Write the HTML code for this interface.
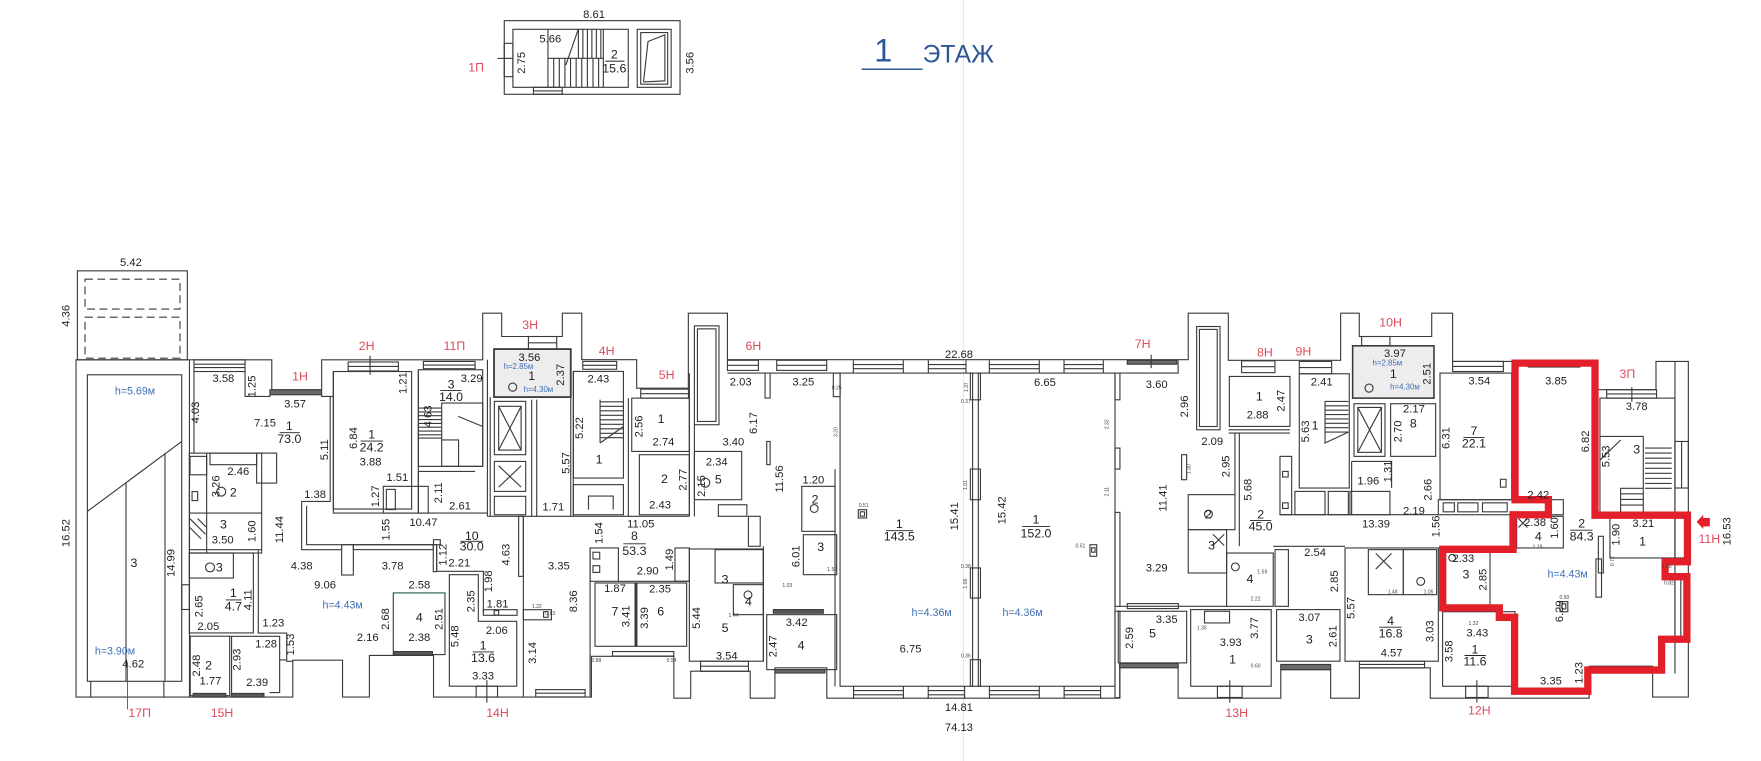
<!DOCTYPE html>
<html><head><meta charset="utf-8">
<style>
html,body{margin:0;padding:0;background:#fff;overflow:hidden;}
svg{display:block;}
</style></head><body>
<svg xmlns="http://www.w3.org/2000/svg" width="1761" height="761" viewBox="0 0 1568 678" preserveAspectRatio="none">
<rect width="1568" height="678" fill="#fff"/>
<line x1="857.8" y1="0" x2="857.8" y2="678" stroke="#e2e2e2" stroke-width="0.8"/>

<!-- ===== HEADER STAIR ===== -->
<g fill="none" stroke="#3a3a3a" stroke-width="1">
<rect x="449" y="18.4" width="156.5" height="65.6"/>
<rect x="456.7" y="26.1" width="102.7" height="51.7"/>
<rect x="567.4" y="26.1" width="30.2" height="51.7"/>
<rect x="570.5" y="29" width="24" height="46"/>
<polyline points="573,73 577,37 592,31 592,72 573,73"/>
<rect x="449" y="38.6" width="7.7" height="29.7"/>
<line x1="443" y1="52" x2="457" y2="52"/>
<line x1="487.9" y1="26.1" x2="487.9" y2="77.8"/>
<line x1="487.9" y1="52" x2="537.2" y2="52"/>
<line x1="503.8" y1="58" x2="514.9" y2="26.1"/>
<path d="M515,26v26M519,26v26M523,26v26M527,26v26M531,26v26M535,26v26M537.2,26v52"/>
<path d="M493,52v26M498,52v26M503,52v26M508,52v26M513,52v26M518,52v26M523,52v26M528,52v26M533,52v26"/>
<rect x="475" y="77.8" width="25.6" height="6.2"/>
<line x1="475" y1="81" x2="500.6" y2="81"/>
<line x1="539" y1="54.5" x2="556" y2="54.5"/>
</g>

<!-- ===== TITLE ===== -->
<text x="786.5" y="54.9" font-family="Liberation Sans, Arial, sans-serif" font-size="29" fill="#2b5797" text-anchor="middle">1</text>
<line x1="767.2" y1="61.7" x2="821.5" y2="61.7" stroke="#2b5797" stroke-width="1.4"/>
<text x="821.5" y="55.8" font-family="Liberation Sans, Arial, sans-serif" font-size="22" fill="#2b5797">ЭТАЖ</text>

<!-- ===== MAIN WALLS ===== -->
<g fill="none" stroke="#3a3a3a" stroke-width="1">
<path d="M67.7,320.6 H242 V347.3 H286.4 V320.6 H429.8 V279 H446.7 V299.8 H500.7 V279 H518 V320.5 H566.9 V345.8 H612.9 V279 H647.7 V320.5 H1058 V279 H1093.7 V321 H1193.7 V279 H1210.3 V299.8 H1274.8 V279 H1293.4 V322 H1420.2 V347.2 H1474.5 V322 H1503.3 V621 H1471.5 V593.6 H1415 V622 H1273.5 V595 H1210.4 V622 H1184.8 V596.6 H1140.4 V622 H1049 V592 H997 V622 H736.2 V595 H690 V622 H668 V598 H615 V622 H600 V584.7 H526.6 V621 H386 V584 H328.9 V621 H305 V588.2 H260.7 V621 H67.7 Z"/>

<!-- left block -->
<rect x="68.9" y="241.3" width="97.9" height="79.3"/>
<rect x="75.7" y="248.7" width="84.6" height="26.7" stroke-dasharray="7,4"/>
<rect x="75.7" y="282.6" width="84.6" height="36.5" stroke-dasharray="7,4"/>
<rect x="77.8" y="333.9" width="84" height="273.1"/>
<line x1="168.7" y1="320.6" x2="168.7" y2="621"/>
<line x1="77.8" y1="455.6" x2="161.8" y2="393.3"/>
<line x1="112.2" y1="430.4" x2="112.2" y2="607"/>
<line x1="146.9" y1="403.7" x2="146.9" y2="607"/>
<path d="M80.8,607v14M145.9,607v14"/>
<rect x="161.8" y="521" width="6.9" height="22"/>

<!-- 1H / 73.0 -->
<rect x="172.7" y="320.6" width="45.5" height="10.4"/>
<path d="M173,324.5h45M173,327.5h45"/>
<path d="M172.7,331 V403.7"/>
<path d="M218.2,331 V353.2 H240.4 V347.3"/>
<rect x="240.4" y="347.3" width="46" height="4.4" fill="#6a6a6a"/>
<path d="M286.4,351.7 V353.2 H296.8"/>
<path d="M294,353.2 V446.7 H268.6 V489.7 H304.2"/>
<path d="M296.8,331 V457.1 H434"/>
<path d="M273,450.7 V485.3 H385.8"/>
<rect x="304.2" y="485.3" width="10.4" height="27"/>
<rect x="314.6" y="485.3" width="71.2" height="4.4"/>
<rect x="385.8" y="485.3" width="3" height="24"/>
<path d="M388.8,486.8 V509 H430.4 V546"/>
<!-- bathroom block -->
<rect x="168.6" y="403.7" width="64.4" height="89"/>
<rect x="187" y="403.7" width="41.5" height="10.3"/>
<rect x="169.2" y="406.6" width="14.8" height="16.4"/>
<rect x="228.5" y="403.7" width="17.8" height="26.7"/>
<line x1="184" y1="403.7" x2="184" y2="492.7"/>
<line x1="168.6" y1="457.1" x2="233" y2="457.1"/>
<line x1="168.6" y1="489.7" x2="233" y2="489.7"/>
<path d="M169,462 l14,14 M169,470 l10,10 M176,462 l8,8"/>
<rect x="171" y="438" width="5" height="8"/>
<circle cx="197" cy="438" r="4"/>
<!-- 4.7 / wc -->
<rect x="168.6" y="492.7" width="57" height="71.2"/>
<rect x="168.6" y="492.7" width="39.2" height="22.3"/>
<circle cx="187" cy="505.5" r="4"/>
<path d="M230,489.7 V564 H255.3 V589.2 H260.7"/>
<!-- 15H rooms -->
<rect x="169.4" y="566.8" width="35.1" height="53"/>
<path d="M206.2,566.9 H205 M206.2,566.9 V620 M206.2,566.9 H249 V588 H255 M249,588 V617 H240"/>
<rect x="172" y="617.8" width="29" height="3.2" fill="#5a5a5a"/>
<rect x="206" y="617.8" width="29" height="3.2" fill="#5a5a5a"/>
<!-- 24.2 -->
<rect x="296.8" y="331" width="69.7" height="122.5"/>
<rect x="310" y="322.5" width="44.7" height="8"/>
<line x1="310" y1="326.5" x2="354.7" y2="326.5"/>
<line x1="329.5" y1="317" x2="329.5" y2="334"/>
<rect x="341.3" y="433.3" width="40" height="23.8"/>
<rect x="344" y="436" width="8" height="18"/>
<line x1="372.5" y1="331" x2="372.5" y2="457.1"/>
<!-- hall right / room 4 -->
<rect x="350.2" y="528.3" width="46" height="54.9"/>
<rect x="351" y="580.5" width="34" height="3.2" fill="#5a5a5a"/>
<line x1="350.2" y1="528.3" x2="396.2" y2="528.3" stroke="#2f6f55"/>
<!-- 13.6 -->
<path d="M400.1,512 H425.9 V553.6 H460.1 V611.4 H400.1 Z"/>
<rect x="430.4" y="543.2" width="30" height="5"/>
<rect x="440" y="544" width="4" height="4"/>
<rect x="466" y="543.2" width="25" height="9"/>
<rect x="484" y="545" width="4" height="5"/>
<rect x="386" y="480.8" width="6" height="4.5"/>
<rect x="461.8" y="460" width="4.2" height="53.5"/>
<rect x="424" y="611.4" width="19" height="9.6"/>
<line x1="433.5" y1="606" x2="433.5" y2="626"/>
<rect x="477" y="614.4" width="44" height="6.5"/>
<line x1="477" y1="617.6" x2="521" y2="617.6"/>
<line x1="466" y1="460" x2="466" y2="621"/>
<line x1="525.4" y1="488" x2="525.4" y2="621"/>
<!-- 11P -->
<rect x="372.5" y="329.4" width="57.3" height="86.1"/>
<rect x="377" y="322" width="46" height="6.5"/>
<line x1="377" y1="325.2" x2="423" y2="325.2"/>
<rect x="393.3" y="359.1" width="36.5" height="56.4"/>
<path d="M372.5,363.6h20.8M372.5,367h20.8M372.5,370.4h20.8M372.5,373.8h20.8M372.5,377.2h20.8M372.5,380.6h20.8M372.5,384h20.8M372.5,387.4h20.8M372.5,390.3h20.8"/>
<path d="M408,371 l21.8,9 M393.3,392 h15 v23.5"/>
<path d="M372.5,420 H423 M372.5,420 V457.1"/>
<!-- 3H column -->
<rect x="439.9" y="311" width="68.3" height="42.8" fill="#ededed" stroke-width="1.6"/>
<circle cx="456.5" cy="344.9" r="3.6"/>
<rect x="470.5" y="299.8" width="25.2" height="11.2"/>
<line x1="470.5" y1="305.4" x2="495.7" y2="305.4"/>
<rect x="440.2" y="357.6" width="27.9" height="47.5"/>
<path d="M444,362 l20,39 M464,362 l-20,39"/>
<rect x="444" y="362" width="20" height="39"/>
<rect x="440.2" y="411.1" width="27.9" height="26.7"/>
<path d="M444,415 l20,19 M464,415 l-20,19"/>
<rect x="440.2" y="442.2" width="27.9" height="16.4"/>
<path d="M434,320.5 V460 M436.5,353.8 V460 M473.4,356 V460 M477.9,356 V460 M508.2,331 V460 M510.5,331 V460"/>
<line x1="434" y1="460" x2="613.8" y2="460"/>
<!-- 4H -->
<rect x="510.5" y="330.9" width="44.6" height="95"/>
<rect x="518.9" y="322" width="30.2" height="7"/>
<line x1="518.9" y1="325.5" x2="549.1" y2="325.5"/>
<path d="M534.3,358h20.8M534.3,362h20.8M534.3,366h20.8M534.3,370h20.8M534.3,374h20.8M534.3,378h20.8M534.3,382h20.8M534.3,386h20.8M534.3,390h20.8M534.3,356V394.7"/>
<path d="M534.3,394.7 L555.1,380"/>
<rect x="510.5" y="431.8" width="44.6" height="26.8"/>
<path d="M524,454 v-12 h22 v12"/>
<!-- 5H -->
<line x1="559.5" y1="354.7" x2="559.5" y2="460"/>
<rect x="562.5" y="354.7" width="51.3" height="47.5"/>
<rect x="569.3" y="405.1" width="44.5" height="53.5"/>
<rect x="570.5" y="346.7" width="42.5" height="8"/>
<line x1="570.5" y1="350.7" x2="613" y2="350.7"/>
<!-- 6H -->
<rect x="618.3" y="290.3" width="21.9" height="88.1"/>
<rect x="621" y="293" width="16.5" height="82.5"/>
<path d="M613.8,332.4 V460 M618.3,378.4 V460"/>
<rect x="618.3" y="402.2" width="42.1" height="43"/>
<circle cx="628" cy="430" r="4"/>
<rect x="647.7" y="321" width="27.6" height="9"/>
<line x1="647.7" y1="325.5" x2="675.3" y2="325.5"/>
<rect x="691.6" y="321" width="44.5" height="9"/>
<line x1="691.6" y1="325.5" x2="736.1" y2="325.5"/>
<path d="M647.7,332.4 H748 M681.2,332.4 V354.7 H685.7 V332.4"/>
<rect x="742" y="332.4" width="6" height="21"/>
<rect x="682.7" y="393.3" width="3" height="20.7"/>
<rect x="713.9" y="433.3" width="29.6" height="40.1"/>
<circle cx="725" cy="453" r="3.5"/>
<rect x="715.3" y="476.4" width="29.7" height="35.6"/>
<rect x="639.6" y="449.7" width="25.4" height="10.3"/>
<rect x="666.4" y="460" width="10.5" height="26.7"/>
<!-- 53.3 / 7 / 6 -->
<rect x="525.4" y="488.2" width="25.2" height="29.7"/>
<rect x="528" y="492" width="6" height="6"/><rect x="528" y="504" width="6" height="6"/>
<line x1="550.6" y1="517.9" x2="613.8" y2="517.9"/>
<rect x="601" y="488.2" width="12.8" height="29.7"/>
<rect x="529.8" y="519.4" width="35.7" height="56.4"/>
<rect x="567" y="519.4" width="44.4" height="56.4"/>
<rect x="565.5" y="519.4" width="1.5" height="56.4" fill="#333"/>
<rect x="545.4" y="580.5" width="54.5" height="4"/>
<!-- room 5 -->
<rect x="613.8" y="489.1" width="65.9" height="100"/>
<rect x="636.7" y="489.7" width="43" height="29.7"/>
<rect x="653" y="520.9" width="26.7" height="26.7"/>
<circle cx="666" cy="530" r="3.5"/>
<rect x="623.8" y="589.1" width="42.6" height="9"/>
<line x1="623.8" y1="593.5" x2="666.4" y2="593.5"/>
<line x1="679.7" y1="486.7" x2="679.7" y2="589.1"/>
<!-- room 4 -->
<rect x="682.7" y="547.6" width="62.3" height="49"/>
<rect x="688.6" y="543.1" width="44.5" height="3.2" fill="#5a5a5a"/>
<rect x="690" y="596.6" width="44.5" height="3" fill="#6a6a6a"/>
<path d="M743.5,418 V611.4"/>
<!-- big rooms -->
<rect x="748" y="332.4" width="118" height="279"/>
<rect x="871.1" y="332.4" width="121.7" height="279"/>
<rect x="864" y="332.4" width="9" height="23.8"/>
<rect x="864" y="417.9" width="9" height="27.3"/>
<rect x="864" y="506" width="9" height="26.8"/>
<rect x="864" y="587.7" width="9" height="23.7"/>
<path d="M759.8,321v11.4M804.3,321v11.4M759.8,324.8h44.5M759.8,328.5h44.5"/>
<path d="M826.6,321v11.4M860.1,321v11.4M826.6,324.8h33.5M826.6,328.5h33.5"/>
<path d="M880.9,321v11.4M925.4,321v11.4M880.9,324.8h44.5M880.9,328.5h44.5"/>
<path d="M947.4,321v11.4M982.4,321v11.4M947.4,324.8h35M947.4,328.5h35"/>
<path d="M760,611.4v11.3M804.4,611.4v11.3M760,615.2h44.4M760,619h44.4"/>
<path d="M826.5,611.4v11.3M858.9,611.4v11.3M826.5,615.2h32.4M826.5,619h32.4"/>
<path d="M881,611.4v11.3M925.4,611.4v11.3M881,615.2h44.4M881,619h44.4"/>
<path d="M947.5,611.4v11.3M980,611.4v11.3M947.5,615.2h32.5M947.5,619h32.5"/>
<rect x="764.2" y="454.1" width="7.4" height="7.4"/><rect x="766" y="456" width="3.8" height="3.8"/>
<rect x="970.5" y="485.3" width="6" height="10.3"/><rect x="972" y="488" width="3" height="4"/>
<rect x="992.8" y="332.4" width="4.4" height="23.8"/>
<rect x="992.8" y="399.2" width="4.4" height="18.7"/>
<rect x="992.8" y="456.5" width="4.4" height="83.7"/>
<rect x="992.8" y="544.6" width="4.4" height="77"/>
<!-- 7H -->
<rect x="1003.7" y="321" width="44" height="3.5" fill="#6a6a6a"/>
<line x1="1025" y1="316" x2="1025" y2="328"/>
<rect x="1065.5" y="290.9" width="20.8" height="92"/>
<rect x="1068" y="293.5" width="15.8" height="86.5"/>
<path d="M1049,321 V332.4 H997"/>
<rect x="1052.1" y="405.1" width="4.5" height="22.3"/>
<rect x="1058" y="440.7" width="41.6" height="31.2"/>
<circle cx="1076" cy="458" r="3.5"/>
<rect x="1058" y="471.9" width="34.2" height="38.6"/>
<path d="M1080,476 l10,10 M1080,486 l10,-10"/>
<rect x="1092.2" y="492.7" width="41.5" height="47.5"/>
<circle cx="1100" cy="505" r="3.5"/>
<line x1="997" y1="540.2" x2="1092.2" y2="540.2"/>
<rect x="1003.7" y="537.8" width="45.5" height="4.4"/>
<rect x="995.7" y="544.6" width="60.9" height="46"/>
<rect x="997" y="591" width="52" height="4" fill="#6a6a6a"/>
<rect x="1072.5" y="544.6" width="22.3" height="10.4"/>
<!-- 8H / 45.0 -->
<rect x="1094.6" y="335.4" width="54" height="44.5"/>
<rect x="1105.5" y="321.5" width="29.7" height="10.5"/>
<line x1="1105.5" y1="326.7" x2="1135.2" y2="326.7"/>
<path d="M1094,382.9 H1148.6 M1094,385.8 H1148.6 M1099.6,385.8 V440.7 M1103.5,385.8 V486.7"/>
<rect x="1139.7" y="406.6" width="10.4" height="52"/>
<rect x="1142" y="420" width="5" height="5"/><rect x="1142" y="448" width="5" height="5"/>
<line x1="1139.7" y1="458.6" x2="1280.7" y2="458.6"/>
<line x1="1133.7" y1="486.7" x2="1197.6" y2="486.7"/>
<!-- 13H -->
<rect x="1060.2" y="543.1" width="71.7" height="68.3"/>
<rect x="1084" y="611.4" width="22" height="10"/>
<line x1="1095" y1="606" x2="1095" y2="626"/>
<rect x="1135.3" y="489.7" width="11.9" height="50.5"/>
<rect x="1136.7" y="543.1" width="56.4" height="46"/>
<rect x="1140.4" y="592" width="44.4" height="4.6" fill="#6a6a6a"/>
<rect x="1197.6" y="488.2" width="83.1" height="100.9"/>
<rect x="1218.4" y="489.7" width="31.1" height="40.1"/>
<path d="M1225,493 l14,14 M1225,507 l14,-14"/>
<rect x="1249.5" y="489.7" width="29.7" height="40.1"/>
<circle cx="1265" cy="518" r="3.5"/>
<rect x="1210.4" y="589.1" width="58" height="6"/>
<line x1="1210.4" y1="592" x2="1268.4" y2="592"/>
<!-- 9H / 10H -->
<rect x="1156.9" y="333" width="44.5" height="101.8"/>
<rect x="1156.9" y="322" width="28.8" height="11"/>
<line x1="1156.9" y1="327.5" x2="1185.7" y2="327.5"/>
<path d="M1179.8,357.6h20.8M1179.8,361.5h20.8M1179.8,365.4h20.8M1179.8,369.3h20.8M1179.8,373.2h20.8M1179.8,377.1h20.8M1179.8,381h20.8M1179.8,384.9h20.8M1179.8,357.6V394.7 L1200.6,385"/>
<rect x="1204.4" y="308.1" width="72.4" height="46.6" fill="#ededed" stroke-width="1.4"/>
<circle cx="1219" cy="345.8" r="3.6"/>
<rect x="1212.4" y="299.8" width="25.2" height="8.3"/>
<rect x="1205.6" y="359.7" width="27.6" height="46.9"/>
<rect x="1209" y="363" width="21" height="40"/>
<path d="M1209,363 l21,40 M1230,363 l-21,40"/>
<rect x="1238.2" y="359.7" width="40.1" height="46.9"/>
<path d="M1203.5,411.1 H1239.1 V434.8 M1203.5,411.1 V458.6"/>
<rect x="1153" y="437.8" width="26.8" height="20.8"/>
<rect x="1182.7" y="437.8" width="17.9" height="20.8"/>
<rect x="1202" y="437.8" width="35.6" height="20.8"/>
<!-- 7 / 22.1 -->
<rect x="1282.2" y="332.4" width="63.8" height="112.8"/>
<rect x="1293.4" y="322" width="45.2" height="9"/>
<line x1="1293.4" y1="326.5" x2="1338.6" y2="326.5"/>
<rect x="1280.7" y="445.2" width="111.3" height="13.4"/>
<rect x="1285" y="448" width="10" height="8"/><rect x="1298" y="448" width="18" height="8"/><rect x="1320" y="448" width="22" height="8"/>
<rect x="1336" y="427" width="5" height="7"/>
<!-- red room internals -->
<rect x="1360.8" y="322" width="46" height="5"/>
<rect x="1350.4" y="460" width="41.6" height="28.2"/>
<path d="M1352,462 l8,8 M1352,470 l8,-8"/>
<rect x="1423.2" y="477.8" width="4.4" height="32.7"/>
<rect x="1285.1" y="489.1" width="41.6" height="52.5"/>
<circle cx="1293" cy="497" r="3"/>
<rect x="1284.5" y="545" width="64.5" height="66.4"/>
<rect x="1305" y="611.4" width="20" height="10"/>
<line x1="1315" y1="606" x2="1315" y2="626"/>
<rect x="1389" y="536" width="7" height="9"/><rect x="1390.8" y="538" width="3.4" height="4.5"/>
<line x1="1415" y1="593.6" x2="1471.5" y2="593.6"/>
<!-- 3P -->
<rect x="1424.6" y="354.7" width="66.8" height="102.4"/>
<rect x="1430.6" y="347.2" width="44.4" height="7.5"/>
<line x1="1430.6" y1="351" x2="1475" y2="351"/>
<line x1="1453" y1="345" x2="1453" y2="358"/>
<path d="M1424.6,388.8 H1463.2 V457.1"/>
<path d="M1464.7,399.2h23.8M1464.7,403.7h23.8M1464.7,408.2h23.8M1464.7,412.7h23.8M1464.7,417.2h23.8M1464.7,421.7h23.8M1464.7,426.2h23.8M1464.7,430.7h23.8M1464.7,435h23.8"/>
<path d="M1443,435h20M1443,440h20M1443,445h20M1443,450h20M1443,435V457.1"/>
<path d="M1424.6,410 L1443,392"/>
<rect x="1433.5" y="461.5" width="57.9" height="35.6"/>
<line x1="1491.4" y1="322" x2="1491.4" y2="600"/>
<rect x="1491.4" y="393.3" width="11.9" height="41.5"/>
<line x1="1497.3" y1="393.3" x2="1497.3" y2="434.8"/>
<rect x="1491.4" y="461.5" width="10.4" height="35.6"/>
<rect x="1491.4" y="513.5" width="10.4" height="53.5"/>
<line x1="1496.6" y1="513.5" x2="1496.6" y2="567"/>
<rect x="1421" y="498" width="5" height="34"/>
</g>

<!-- ===== RED OUTLINE ===== -->
<path d="M1349,323.5 L1420.2,323.5 L1420.2,459 L1502.5,459 L1502.5,500.5 L1482.6,500.5 L1482.6,513.8 L1502,513.8 L1502,569.5 L1479.5,569.5 L1479.5,597 L1413.8,597 L1413.8,615.8 L1348.6,615.8 L1348.6,550 L1335,550 L1335,541.6 L1284.6,541.6 L1284.6,489.4 L1347.2,489.4 L1347.2,458.6 L1378.7,458.6 L1378.7,445.2 L1349,445.2 Z" fill="none" stroke="#e3202a" stroke-width="6.5" stroke-linejoin="miter"/>
<polygon points="1510.7,465 1516.6,458.6 1516.6,461.5 1522.5,461.5 1522.5,469 1516.6,469 1516.6,471.3" fill="#e3202a"/>

<!-- ===== TEXT ===== -->
<g font-family="Liberation Sans, Arial, sans-serif" font-size="10" fill="#1e1e1e" text-anchor="middle" dominant-baseline="central">
<text x="529" y="13.5">8.61</text>
<text x="490" y="35">5.66</text>
<text transform="translate(465,56) rotate(-90)">2.75</text>
<text x="547" y="48.5" font-size="11">2</text>
<text x="547" y="61" font-size="11">15.6</text>
<text transform="translate(615,56) rotate(-90)">3.56</text>
<text x="116.6" y="234.5">5.42</text>
<text transform="translate(59.4,281.4) rotate(-90)">4.36</text>
<text transform="translate(59.4,474.9) rotate(-90)">16.52</text>
<text x="119.3" y="501.6" font-size="11">3</text>
<text transform="translate(152.9,501.6) rotate(-90)">14.99</text>
<text x="118.7" y="592.1">4.62</text>
<text x="198.9" y="337.8">3.58</text>
<text transform="translate(224.7,344.3) rotate(-90)">1.25</text>
<text x="262.7" y="360.6">3.57</text>
<text transform="translate(174.5,367.5) rotate(-90)">4.03</text>
<text x="236" y="377.5">7.15</text>
<text x="257.6" y="379.6" font-size="11">1</text>
<text x="257.6" y="391.2" font-size="11">73.0</text>
<text transform="translate(289.4,400.7) rotate(-90)">5.11</text>
<text x="212.2" y="420.6">2.46</text>
<text transform="translate(192.9,433.3) rotate(-90)">3.26</text>
<text x="207.8" y="438.7" font-size="11">2</text>
<text x="280.5" y="440.8">1.38</text>
<text x="198.9" y="467.5" font-size="11">3</text>
<text x="198.3" y="481.7">3.50</text>
<text transform="translate(224.7,473.4) rotate(-90)">1.60</text>
<text transform="translate(249.3,471.9) rotate(-90)">11.44</text>
<text x="195.3" y="505.5" font-size="11">3</text>
<text x="207.8" y="528.3" font-size="11">1</text>
<text x="207.8" y="540.2" font-size="11">4.7</text>
<text transform="translate(221.1,534.3) rotate(-90)">4.11</text>
<text transform="translate(177.5,540.2) rotate(-90)">2.65</text>
<text x="185.5" y="558.6">2.05</text>
<text x="243.4" y="555.6">1.23</text>
<text x="236.9" y="574.3">1.28</text>
<text transform="translate(259.1,574.3) rotate(-90)">1.53</text>
<text x="185.7" y="592.7" font-size="11">2</text>
<text transform="translate(175.5,593) rotate(-90)">2.48</text>
<text transform="translate(211.3,587.6) rotate(-90)">2.93</text>
<text x="187.4" y="607">1.77</text>
<text x="229" y="608.4">2.39</text>
<text x="330.9" y="387" font-size="11">1</text>
<text x="330.9" y="398.8" font-size="11">24.2</text>
<text transform="translate(315.2,390.3) rotate(-90)">6.84</text>
<text x="330" y="412">3.88</text>
<text transform="translate(359.1,341.3) rotate(-90)">1.21</text>
<text x="353.8" y="425.9">1.51</text>
<text transform="translate(334.8,442.2) rotate(-90)">1.27</text>
<text transform="translate(390.8,439) rotate(-90)">2.11</text>
<text transform="translate(344.3,471.9) rotate(-90)">1.55</text>
<text x="377" y="466">10.47</text>
<text x="268.6" y="504.6">4.38</text>
<text x="349.6" y="504.6">3.78</text>
<text transform="translate(394.7,494.2) rotate(-90)">1.12</text>
<text x="289.4" y="521.8">9.06</text>
<text x="373.4" y="521.8">2.58</text>
<text x="373.4" y="550" font-size="11">4</text>
<text transform="translate(343.7,551.5) rotate(-90)">2.68</text>
<text transform="translate(391.2,551.5) rotate(-90)">2.51</text>
<text x="373.4" y="568.4">2.38</text>
<text x="327.4" y="568.4">2.16</text>
<text x="409" y="502.2">2.21</text>
<text transform="translate(405.6,566.9) rotate(-90)">5.48</text>
<text transform="translate(419.9,535.7) rotate(-90)">2.35</text>
<text transform="translate(435.2,517.9) rotate(-90)">1.98</text>
<text x="443" y="538.7">1.81</text>
<text x="442.4" y="562.4">2.06</text>
<text x="430.1" y="575" font-size="11">1</text>
<text x="430.1" y="586.4" font-size="11">13.6</text>
<text x="430.1" y="602.5">3.33</text>
<text transform="translate(474.7,581.7) rotate(-90)">3.14</text>
<text transform="translate(450.9,494.2) rotate(-90)">4.63</text>
<text x="497.6" y="504.5">3.35</text>
<text transform="translate(511.2,535.7) rotate(-90)">8.36</text>
<text x="420" y="477.5" font-size="11">10</text>
<text x="420" y="487" font-size="11">30.0</text>
<text x="401.6" y="342.5" font-size="11">3</text>
<text x="401.6" y="353.5" font-size="11">14.0</text>
<text x="420" y="337.8">3.29</text>
<text transform="translate(381.4,371) rotate(-90)">4.63</text>
<text x="409.6" y="451.1">2.61</text>
<text x="471.4" y="319">3.56</text>
<text x="473.4" y="334.8" font-size="11">1</text>
<text transform="translate(499.3,333.9) rotate(-90)">2.37</text>
<text x="492.7" y="452">1.71</text>
<text transform="translate(504.6,412.5) rotate(-90)">5.57</text>
<text x="532.8" y="338.3">2.43</text>
<text transform="translate(516.5,381.4) rotate(-90)">5.22</text>
<text x="533.4" y="409.6" font-size="11">1</text>
<text x="588.6" y="373.1" font-size="11">1</text>
<text transform="translate(569.3,379.9) rotate(-90)">2.56</text>
<text x="590.7" y="394.1">2.74</text>
<text x="591.6" y="426.8" font-size="11">2</text>
<text transform="translate(608.5,427.4) rotate(-90)">2.77</text>
<text x="587.7" y="450.5">2.43</text>
<text x="638.2" y="411.9">2.34</text>
<text x="639.6" y="427.4" font-size="11">5</text>
<text transform="translate(625,433) rotate(-90)">2.15</text>
<text x="653" y="394.1">3.40</text>
<text transform="translate(671.4,376.9) rotate(-90)">6.17</text>
<text x="659.5" y="340.7">2.03</text>
<text x="715.3" y="340.7">3.25</text>
<text transform="translate(694.6,426.8) rotate(-90)">11.56</text>
<text x="570.5" y="467.4">11.05</text>
<text transform="translate(533.7,474.9) rotate(-90)">1.54</text>
<text x="564.9" y="477.5" font-size="11">8</text>
<text x="564.9" y="490.8" font-size="11">53.3</text>
<text transform="translate(596.6,498.6) rotate(-90)">1.49</text>
<text x="576.7" y="509">2.90</text>
<text x="547.6" y="524.7">1.87</text>
<text x="587.7" y="525.3">2.35</text>
<text x="547.6" y="544.6" font-size="11">7</text>
<text transform="translate(558,549.1) rotate(-90)">3.41</text>
<text transform="translate(574.3,550.6) rotate(-90)">3.39</text>
<text x="588.3" y="544.6" font-size="11">6</text>
<text x="724.2" y="428">1.20</text>
<text x="725.7" y="445.2" font-size="11">2</text>
<text x="730.8" y="487.3" font-size="11">3</text>
<text transform="translate(709.4,495.6) rotate(-90)">6.01</text>
<text transform="translate(620.4,550.6) rotate(-90)">5.44</text>
<text x="645.6" y="559.5" font-size="11">5</text>
<text x="647.1" y="584.7">3.54</text>
<text x="645.6" y="516.4" font-size="11">3</text>
<text x="666.4" y="535.7" font-size="11">4</text>
<text x="709.4" y="555">3.42</text>
<text x="713.3" y="575.2" font-size="11">4</text>
<text transform="translate(688.6,575.8) rotate(-90)">2.47</text>
<text x="853.9" y="316.1">22.68</text>
<text x="800.7" y="467" font-size="11">1</text>
<text x="800.7" y="478.2" font-size="11">143.5</text>
<text transform="translate(850.3,460) rotate(-90)">15.41</text>
<text x="810.8" y="578.8">6.75</text>
<text x="922.4" y="462.8" font-size="11">1</text>
<text x="922.4" y="475.2" font-size="11">152.0</text>
<text transform="translate(892.7,454.7) rotate(-90)">15.42</text>
<text x="930.4" y="341.3">6.65</text>
<text x="853.8" y="630.7">14.81</text>
<text x="853.8" y="648.5">74.13</text>
<text x="1029.9" y="342.8">3.60</text>
<text transform="translate(1055.1,362.1) rotate(-90)">2.96</text>
<text x="1079.4" y="393.8">2.09</text>
<text transform="translate(1092.2,415.5) rotate(-90)">2.95</text>
<text transform="translate(1035.8,443.7) rotate(-90)">11.41</text>
<text x="1029.9" y="506.6">3.29</text>
<text x="1121.3" y="353.2" font-size="11">1</text>
<text transform="translate(1141.2,357) rotate(-90)">2.47</text>
<text x="1119.8" y="370.4">2.88</text>
<text x="1122.5" y="458.4" font-size="11">2</text>
<text x="1122.5" y="469.2" font-size="11">45.0</text>
<text transform="translate(1111.5,436.3) rotate(-90)">5.68</text>
<text x="1075.9" y="458.6" font-size="11">2</text>
<text x="1078.8" y="486.1" font-size="11">3</text>
<text x="1113" y="515.8" font-size="11">4</text>
<text x="1038.8" y="552.6">3.35</text>
<text x="1026.3" y="564.5" font-size="11">5</text>
<text transform="translate(1006.1,568.4) rotate(-90)">2.59</text>
<text x="1095.8" y="572.8">3.93</text>
<text transform="translate(1117.4,559.5) rotate(-90)">3.77</text>
<text x="1097.5" y="587.7" font-size="11">1</text>
<text x="1176.8" y="340.7">2.41</text>
<text transform="translate(1162.9,384.4) rotate(-90)">5.63</text>
<text x="1170.9" y="379.3" font-size="11">1</text>
<text x="1242.1" y="315.5">3.97</text>
<text x="1240.6" y="333" font-size="11">1</text>
<text transform="translate(1270.9,333) rotate(-90)">2.51</text>
<text x="1259" y="365">2.17</text>
<text x="1258.4" y="377.5" font-size="11">8</text>
<text transform="translate(1245.1,384.4) rotate(-90)">2.70</text>
<text x="1218.4" y="428.9">1.96</text>
<text transform="translate(1236.2,420) rotate(-90)">1.31</text>
<text transform="translate(1271.8,436.3) rotate(-90)">2.66</text>
<text x="1259" y="455.6">2.19</text>
<text x="1225.2" y="467.5">13.39</text>
<text transform="translate(1279.2,469) rotate(-90)">1.56</text>
<text x="1170.9" y="492.7">2.54</text>
<text x="1317.2" y="339.8">3.54</text>
<text x="1312.4" y="384.2" font-size="11">7</text>
<text x="1312.4" y="395" font-size="11">22.1</text>
<text transform="translate(1288.1,390.3) rotate(-90)">6.31</text>
<text x="1385.5" y="339.8">3.85</text>
<text transform="translate(1412.2,393.3) rotate(-90)">6.82</text>
<text x="1369.7" y="441.6">2.42</text>
<text x="1457.3" y="362.7">3.78</text>
<text transform="translate(1430.6,406.6) rotate(-90)">5.53</text>
<text x="1457.3" y="400.7" font-size="11">3</text>
<text x="1463.2" y="466.9">3.21</text>
<text x="1462.6" y="482.3" font-size="11">1</text>
<text transform="translate(1439.5,476.4) rotate(-90)">1.90</text>
<text transform="translate(1538,473.4) rotate(-90)">16.53</text>
<text x="1408.3" y="466.6" font-size="11">2</text>
<text x="1408.3" y="478" font-size="11">84.3</text>
<text transform="translate(1384.6,470.4) rotate(-90)">1.60</text>
<text x="1369.7" y="477.8" font-size="11">4</text>
<text x="1366.8" y="466">2.38</text>
<text transform="translate(1389,544.6) rotate(-90)">6.29</text>
<text x="1303" y="498">2.33</text>
<text x="1305.3" y="512" font-size="11">3</text>
<text transform="translate(1320.8,516.4) rotate(-90)">2.85</text>
<text x="1315.4" y="564.5">3.43</text>
<text x="1313.3" y="578.5" font-size="11">1</text>
<text x="1313.3" y="589.4" font-size="11">11.6</text>
<text transform="translate(1290.5,580.3) rotate(-90)">3.58</text>
<text x="1381" y="607">3.35</text>
<text transform="translate(1406.6,599.5) rotate(-90)">1.23</text>
<text x="1238.2" y="553.3" font-size="11">4</text>
<text x="1238.2" y="564.2" font-size="11">16.8</text>
<text transform="translate(1273.9,562.4) rotate(-90)">3.03</text>
<text transform="translate(1203.5,541.6) rotate(-90)">5.57</text>
<text x="1239.1" y="582.3">4.57</text>
<text transform="translate(1188.7,517.9) rotate(-90)">2.85</text>
<text x="1165.8" y="550.6">3.07</text>
<text x="1165.8" y="569.9" font-size="11">3</text>
<text transform="translate(1187.2,566.9) rotate(-90)">2.61</text>
<g font-size="4.5" fill="#444">
<text x="745" y="346">0.25</text><text transform="translate(745,385) rotate(-90)">3.20</text>
<text transform="translate(861,345) rotate(-90)">1.37</text><text x="860" y="358">0.37</text>
<text transform="translate(860,432) rotate(-90)">1.01</text><text x="860" y="505">0.38</text>
<text transform="translate(860,520) rotate(-90)">1.06</text><text x="860" y="585">0.36</text>
<text transform="translate(986,378) rotate(-90)">2.32</text><text transform="translate(986,438) rotate(-90)">2.11</text>
<text transform="translate(1059,418) rotate(-90)">1.30</text><text x="962" y="487">0.51</text>
<text x="769" y="451">0.51</text><text x="1369" y="488">1.19</text>
<text x="1393" y="533">0.50</text><text x="1312" y="556">1.32</text>
<text transform="translate(1436,500) rotate(-90)">0.72</text><text x="1484" y="505">1.60</text>
<text x="1486" y="520">0.82</text><text x="1240" y="528">1.48</text><text x="1272" y="528">1.05</text>
<text x="1124" y="510">1.59</text><text x="1118" y="534">2.22</text><text x="1070" y="560">1.30</text>
<text x="1118" y="594">0.60</text><text x="701" y="522">1.03</text><text x="741" y="508">1.54</text>
<text x="531" y="589">0.88</text><text x="598" y="589">0.54</text><text x="653" y="549">1.44</text>
<text x="478" y="541">1.22</text><text x="490" y="547">0.83</text>
</g>
</g>

<!-- red labels -->
<g font-family="Liberation Sans, Arial, sans-serif" font-size="11" fill="#dc4c5c" text-anchor="middle" dominant-baseline="central">
<text x="424" y="60">1П</text>
<text x="124.4" y="635.1">17П</text>
<text x="267.1" y="335.4">1Н</text>
<text x="197.7" y="635.1">15Н</text>
<text x="326.5" y="308.1">2Н</text>
<text x="443" y="635.1">14Н</text>
<text x="404.6" y="308.1">11П</text>
<text x="472" y="289.4">3Н</text>
<text x="540.2" y="312.5">4Н</text>
<text x="593.6" y="333.9">5Н</text>
<text x="670.8" y="308.1">6Н</text>
<text x="1017.4" y="306.3">7Н</text>
<text x="1126.3" y="314">8Н</text>
<text x="1160.5" y="313.1">9Н</text>
<text x="1238.2" y="287.3">10Н</text>
<text x="1449" y="333">3П</text>
<text x="1522" y="480.2">11Н</text>
<text x="1101.2" y="635.1">13Н</text>
<text x="1317.2" y="633">12Н</text>
</g>
<line x1="113.5" y1="590" x2="113.5" y2="632" stroke="#555" stroke-width="0.8"/>

<!-- blue height labels -->
<g font-family="Liberation Sans, Arial, sans-serif" font-size="9.5" fill="#3f6fb5" text-anchor="middle" dominant-baseline="central">
<text x="120.2" y="348.8">h=5.69м</text>
<text x="102.4" y="580.3">h=3.90м</text>
<text x="305.1" y="539.6">h=4.43м</text>
<text x="461.6" y="326.5" font-size="7">h=2.85м</text>
<text x="479.4" y="347.2" font-size="7">h=4.30м</text>
<text x="829.5" y="546.1">h=4.36м</text>
<text x="910.5" y="546.1">h=4.36м</text>
<text x="1235.3" y="323.5" font-size="7">h=2.85м</text>
<text x="1251" y="344.9" font-size="7">h=4.30м</text>
<text x="1395.8" y="512">h=4.43м</text>
</g>

<!-- fraction lines -->
<g stroke="#222" stroke-width="0.8">
<line x1="249" y1="385.5" x2="267" y2="385.5"/>
<line x1="321" y1="393" x2="341" y2="393"/>
<line x1="201" y1="534.5" x2="215" y2="534.5"/>
<line x1="421" y1="580.8" x2="440" y2="580.8"/>
<line x1="410" y1="482.3" x2="430" y2="482.3"/>
<line x1="392" y1="348" x2="411" y2="348"/>
<line x1="555" y1="484.5" x2="575" y2="484.5"/>
<line x1="789" y1="472.8" x2="813" y2="472.8"/>
<line x1="910" y1="469" x2="935" y2="469"/>
<line x1="1113" y1="463.8" x2="1132" y2="463.8"/>
<line x1="1228" y1="558.8" x2="1248" y2="558.8"/>
<line x1="1303" y1="389.7" x2="1322" y2="389.7"/>
<line x1="1398" y1="472.4" x2="1418" y2="472.4"/>
<line x1="1304" y1="584" x2="1323" y2="584"/>
</g>
</svg>
</body></html>
